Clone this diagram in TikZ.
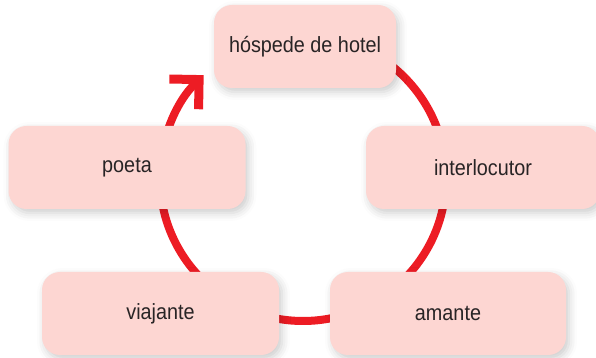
\documentclass[tikz,border=0pt]{standalone}
\usepackage{fontspec}
\setmainfont{Liberation Sans}[FakeStretch=0.9]
\usetikzlibrary{positioning, arrows.meta, shadows.blur}
\definecolor{boxpink}{RGB}{253,214,210}
\definecolor{ringred}{RGB}{237,28,36}
\definecolor{textgray}{RGB}{40,36,37}
\tikzset{
  rolebox/.style={rectangle, rounded corners=18pt, fill=boxpink, minimum height=83pt,
    text=textgray, font=\fontsize{22}{26}\selectfont,
    blur shadow={shadow xshift=3pt, shadow yshift=-4pt, shadow blur radius=8pt, shadow opacity=20}},
  ring/.style={ringred, line width=8pt, -{Straight Barb[length=21pt, width=42pt, line width=9pt]}}
}
\begin{document}
\begin{tikzpicture}[x=1pt, y=1pt]
  \useasboundingbox (0,0) rectangle (596,358);
  \coordinate (centre) at (303,180);
  \draw[ring] (centre) ++(90:143) arc[start angle=90, end angle=-226, radius=143];
  \begin{scope}[every node/.style={rolebox}]
    \node (hospede) [minimum width=182pt] at (305,311.5) {hóspede de hotel};
    \node (poeta) [minimum width=237pt] at (127,190.5) {poeta};
    \node (interlocutor) [minimum width=234pt] at (483,190.5) {interlocutor};
    \node (viajante) [minimum width=237pt] at (160.5,44.5) {viajante};
    \node (amante) [minimum width=236pt] at (448,44.5) {amante};
  \end{scope}
\end{tikzpicture}
\end{document}
